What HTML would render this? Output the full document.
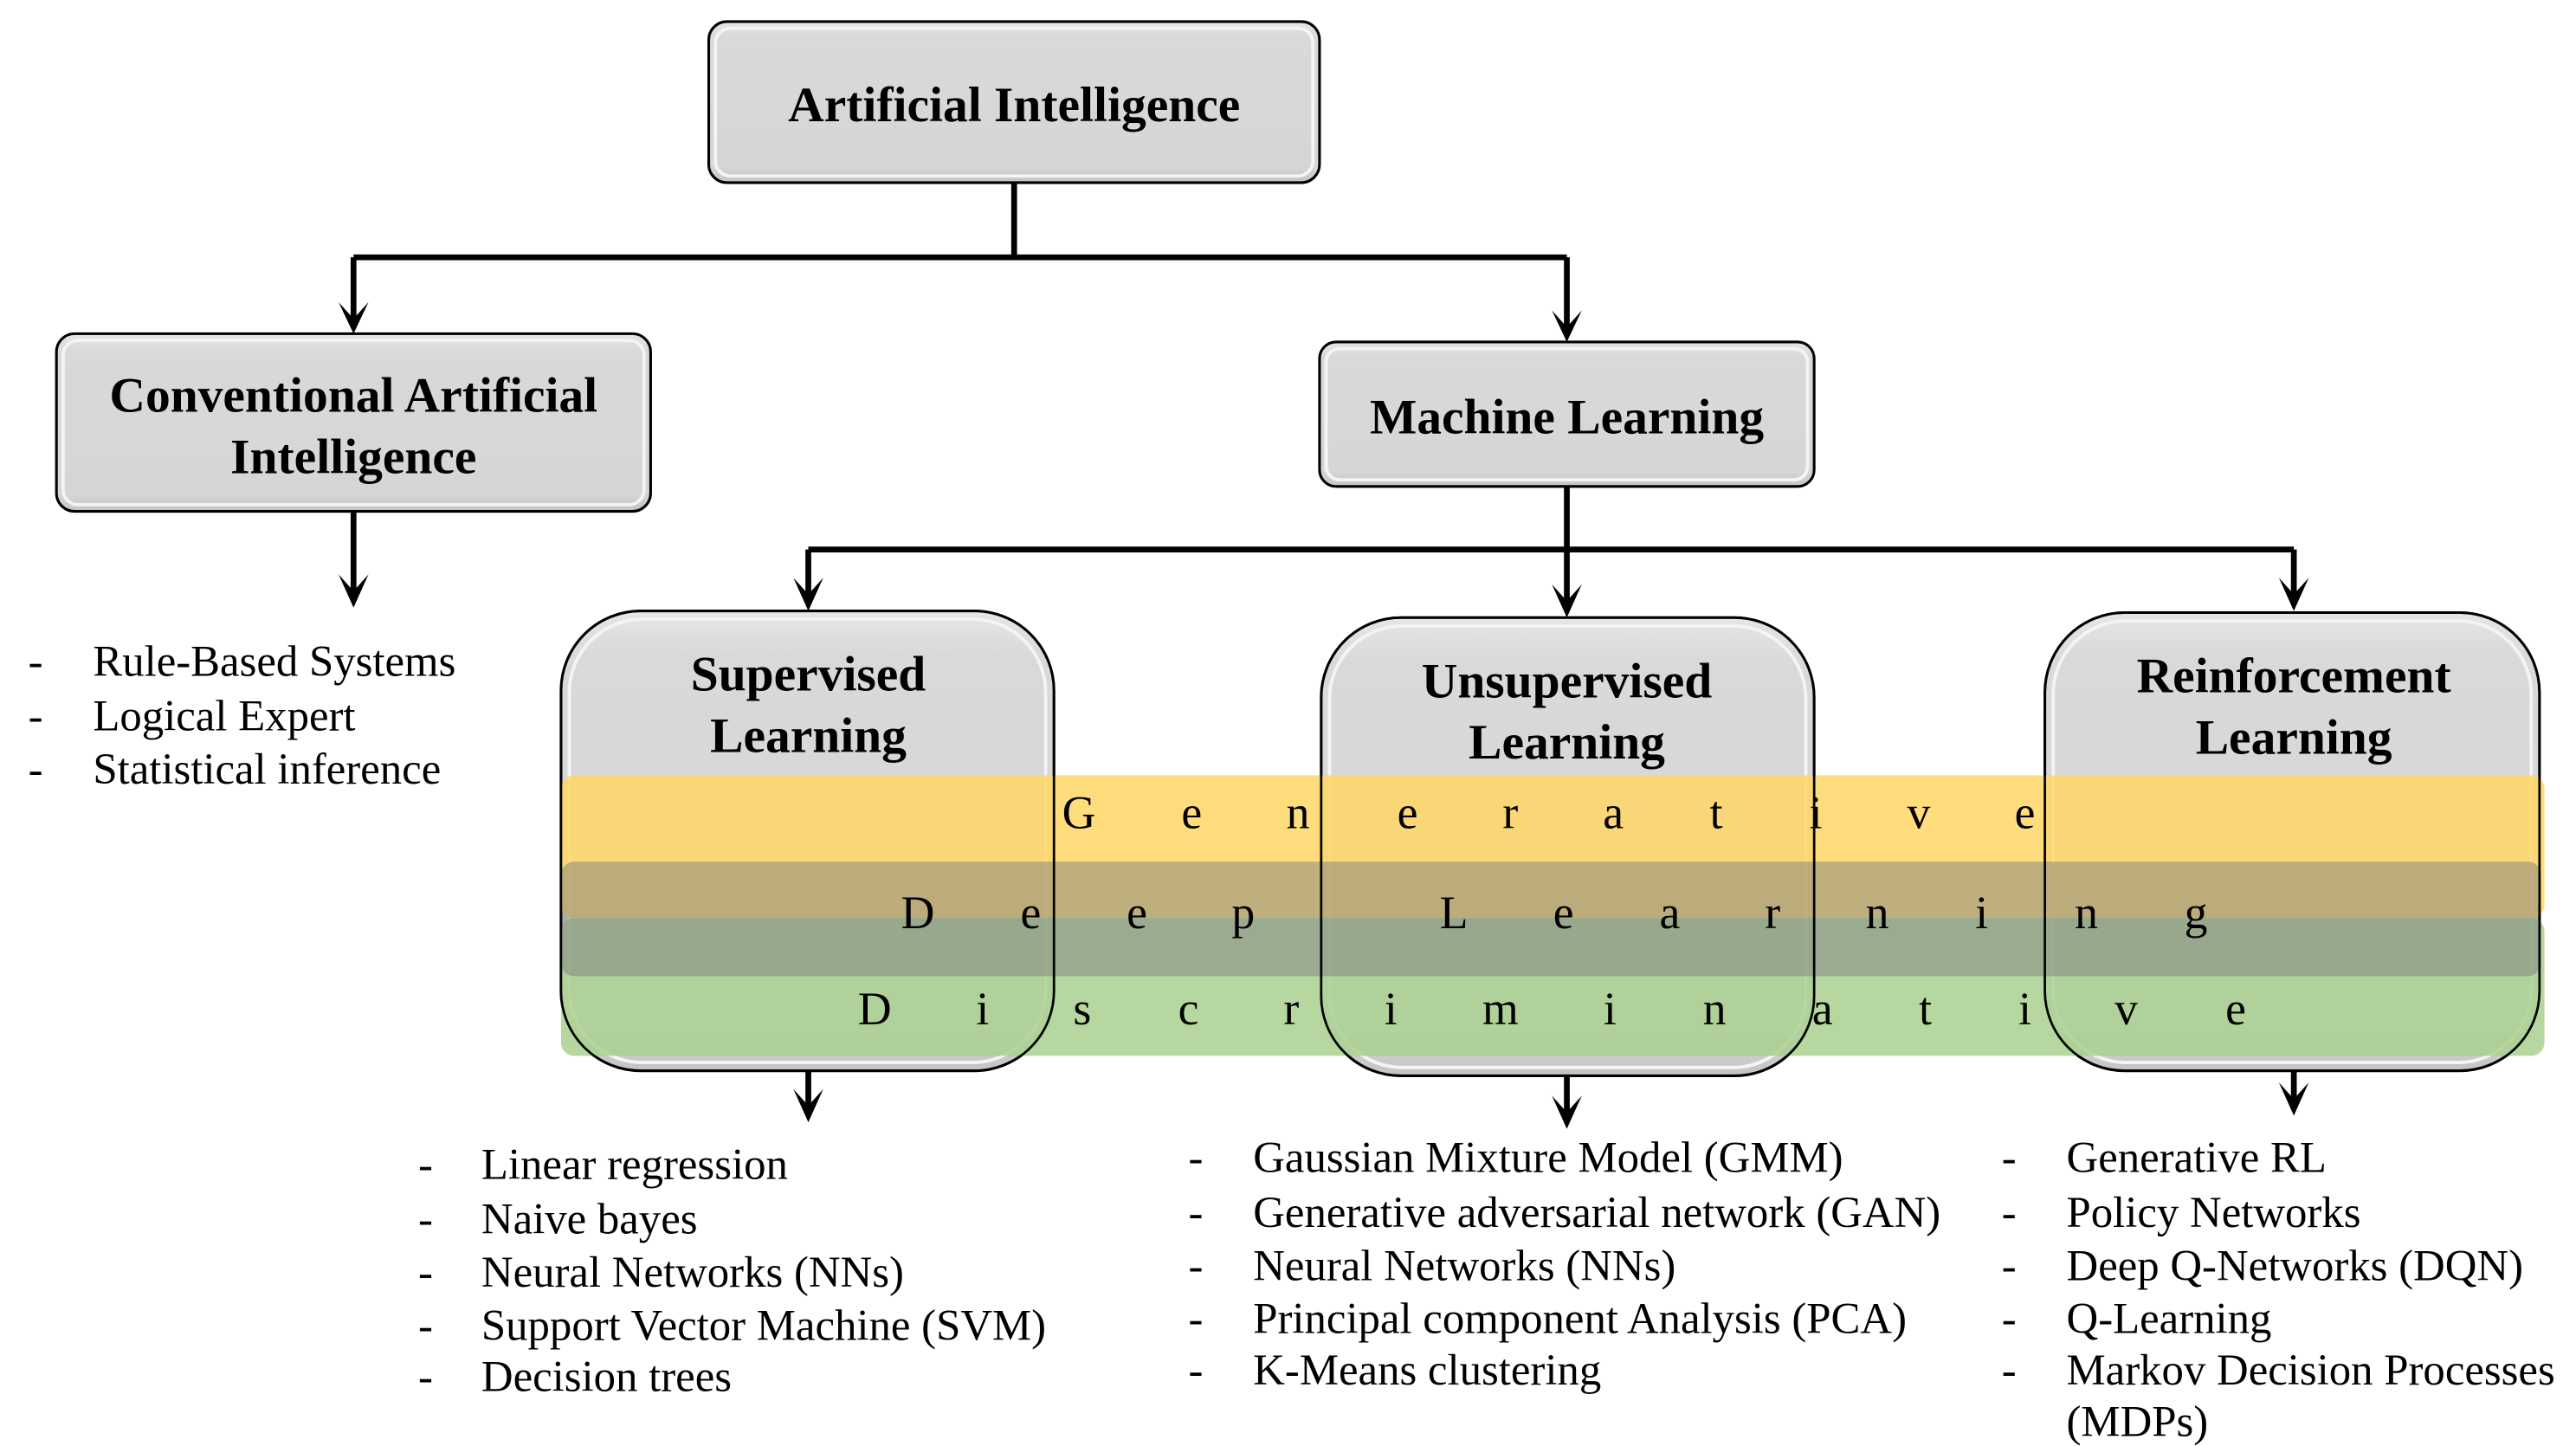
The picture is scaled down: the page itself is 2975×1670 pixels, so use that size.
<!DOCTYPE html>
<html><head><meta charset="utf-8"><style>
html,body{margin:0;padding:0;background:#fff;}
svg{display:block;}
text{font-family:"Liberation Serif","Times New Roman",serif;fill:#000;}
.t{font-weight:bold;font-size:30px;text-anchor:middle;}
.l{font-size:26.5px;}
.s{font-size:28px;text-anchor:middle;}
</style></head><body>
<svg width="2975" height="1670" viewBox="0 0 1552 871" preserveAspectRatio="none" xmlns="http://www.w3.org/2000/svg">
<defs>
<linearGradient id="g" x1="0" y1="0" x2="0" y2="1">
<stop offset="0" stop-color="#e6e6e6"/><stop offset="0.1" stop-color="#d9d9d9"/><stop offset="0.9" stop-color="#d6d6d6"/><stop offset="1" stop-color="#c4c4c4"/>
</linearGradient>
</defs>
<g fill="none" stroke="#000" stroke-width="3.5">
<polyline points="611,110 611,155"/>
<polyline points="213,155 944,155"/>
<polyline points="213,155 213,196"/>
<polyline points="944,155 944,201"/>
<polyline points="213,308 213,360"/>
<polyline points="944,293 944,366"/>
<polyline points="487,331 1382,331"/>
<polyline points="487,331 487,362"/>
<polyline points="1382,331 1382,362"/>
<polyline points="487,645 487,670"/>
<polyline points="944,648 944,674"/>
<polyline points="1382,645 1382,666"/>
</g>
<g fill="#000">
<polygon points="204,182 213,201 222,182 213,192"/>
<polygon points="935,187 944,206 953,187 944,197"/>
<polygon points="204,346 213,366 222,346 213,356"/>
<polygon points="478,348 487,368 496,348 487,358"/>
<polygon points="935,352 944,372 953,352 944,362"/>
<polygon points="1373,348 1382,368 1391,348 1382,358"/>
<polygon points="478,656 487,676 496,656 487,666"/>
<polygon points="935,660 944,680 953,660 944,670"/>
<polygon points="1373,652 1382,672 1391,652 1382,662"/>
</g>
<g stroke="#000" stroke-width="1.6" fill="url(#g)">
<rect x="427" y="13" width="368" height="97" rx="11"/>
<rect x="34" y="201" width="358" height="107" rx="11"/>
<rect x="795" y="206" width="298" height="87" rx="10"/>
<rect x="338" y="368" width="297" height="277" rx="48"/>
<rect x="796" y="372" width="297" height="276" rx="48"/>
<rect x="1232" y="369" width="298" height="276" rx="48"/>
</g>
<g fill="none" stroke="#f4f4f4" stroke-width="2">
<rect x="431" y="17" width="360" height="89" rx="9"/>
<rect x="38" y="205" width="350" height="99" rx="9"/>
<rect x="799" y="210" width="290" height="79" rx="8"/>
<rect x="343" y="373" width="287" height="267" rx="44"/>
<rect x="801" y="377" width="287" height="266" rx="44"/>
<rect x="1237" y="374" width="288" height="266" rx="44"/>
</g>
<rect x="338" y="467" width="1195" height="86" rx="8" fill="#ffd665" opacity="0.85"/>
<rect x="338" y="553" width="1195" height="83" rx="8" fill="#a9d08f" opacity="0.85"/>
<rect x="338" y="519" width="1193" height="69" rx="8" fill="#808080" opacity="0.5"/>
<g fill="none" stroke="#000" stroke-width="1.4">
<rect x="338" y="368" width="297" height="277" rx="48"/>
<rect x="796" y="372" width="297" height="276" rx="48"/>
<rect x="1232" y="369" width="298" height="276" rx="48"/>
</g>
<text class="t" x="611" y="73">Artificial Intelligence</text>
<text class="t" x="213" y="248">Conventional Artificial</text>
<text class="t" x="213" y="285">Intelligence</text>
<text class="t" x="944" y="261">Machine Learning</text>
<text class="t" x="487" y="416">Supervised</text>
<text class="t" x="487" y="453">Learning</text>
<text class="t" x="944" y="420">Unsupervised</text>
<text class="t" x="944" y="457">Learning</text>
<text class="t" x="1382" y="417">Reinforcement</text>
<text class="t" x="1382" y="454">Learning</text>
<g>
<text class="s" x="650" y="499">G</text><text class="s" x="718" y="499">e</text><text class="s" x="782" y="499">n</text><text class="s" x="848" y="499">e</text><text class="s" x="910" y="499">r</text><text class="s" x="972" y="499">a</text><text class="s" x="1034" y="499">t</text><text class="s" x="1094" y="499">i</text><text class="s" x="1156" y="499">v</text><text class="s" x="1220" y="499">e</text>
<text class="s" x="553" y="559">D</text><text class="s" x="621" y="559">e</text><text class="s" x="685" y="559">e</text><text class="s" x="749" y="559">p</text><text class="s" x="876" y="559">L</text><text class="s" x="942" y="559">e</text><text class="s" x="1006" y="559">a</text><text class="s" x="1068" y="559">r</text><text class="s" x="1131" y="559">n</text><text class="s" x="1194" y="559">i</text><text class="s" x="1257" y="559">n</text><text class="s" x="1323" y="559">g</text>
<text class="s" x="527" y="617">D</text><text class="s" x="592" y="617">i</text><text class="s" x="652" y="617">s</text><text class="s" x="716" y="617">c</text><text class="s" x="778" y="617">r</text><text class="s" x="838" y="617">i</text><text class="s" x="904" y="617">m</text><text class="s" x="970" y="617">i</text><text class="s" x="1033" y="617">n</text><text class="s" x="1098" y="617">a</text><text class="s" x="1160" y="617">t</text><text class="s" x="1220" y="617">i</text><text class="s" x="1281" y="617">v</text><text class="s" x="1347" y="617">e</text>
</g>
<g>
<text class="l" x="17" y="407">-</text><text class="l" x="56" y="407">Rule-Based Systems</text>
<text class="l" x="17" y="440">-</text><text class="l" x="56" y="440">Logical Expert</text>
<text class="l" x="17" y="472">-</text><text class="l" x="56" y="472">Statistical inference</text>

<text class="l" x="252" y="710">-</text><text class="l" x="290" y="710">Linear regression</text>
<text class="l" x="252" y="743">-</text><text class="l" x="290" y="743">Naive bayes</text>
<text class="l" x="252" y="775">-</text><text class="l" x="290" y="775">Neural Networks (NNs)</text>
<text class="l" x="252" y="807">-</text><text class="l" x="290" y="807">Support Vector Machine (SVM)</text>
<text class="l" x="252" y="838">-</text><text class="l" x="290" y="838">Decision trees</text>

<text class="l" x="716" y="706">-</text><text class="l" x="755" y="706">Gaussian Mixture Model (GMM)</text>
<text class="l" x="716" y="739">-</text><text class="l" x="755" y="739">Generative adversarial network (GAN)</text>
<text class="l" x="716" y="771">-</text><text class="l" x="755" y="771">Neural Networks (NNs)</text>
<text class="l" x="716" y="803">-</text><text class="l" x="755" y="803">Principal component Analysis (PCA)</text>
<text class="l" x="716" y="834">-</text><text class="l" x="755" y="834">K-Means clustering</text>

<text class="l" x="1206" y="706">-</text><text class="l" x="1245" y="706">Generative RL</text>
<text class="l" x="1206" y="739">-</text><text class="l" x="1245" y="739">Policy Networks</text>
<text class="l" x="1206" y="771">-</text><text class="l" x="1245" y="771">Deep Q-Networks (DQN)</text>
<text class="l" x="1206" y="803">-</text><text class="l" x="1245" y="803">Q-Learning</text>
<text class="l" x="1206" y="834">-</text><text class="l" x="1245" y="834">Markov Decision Processes</text>
<text class="l" x="1245" y="865">(MDPs)</text>
</g>
</svg>
</body></html>
